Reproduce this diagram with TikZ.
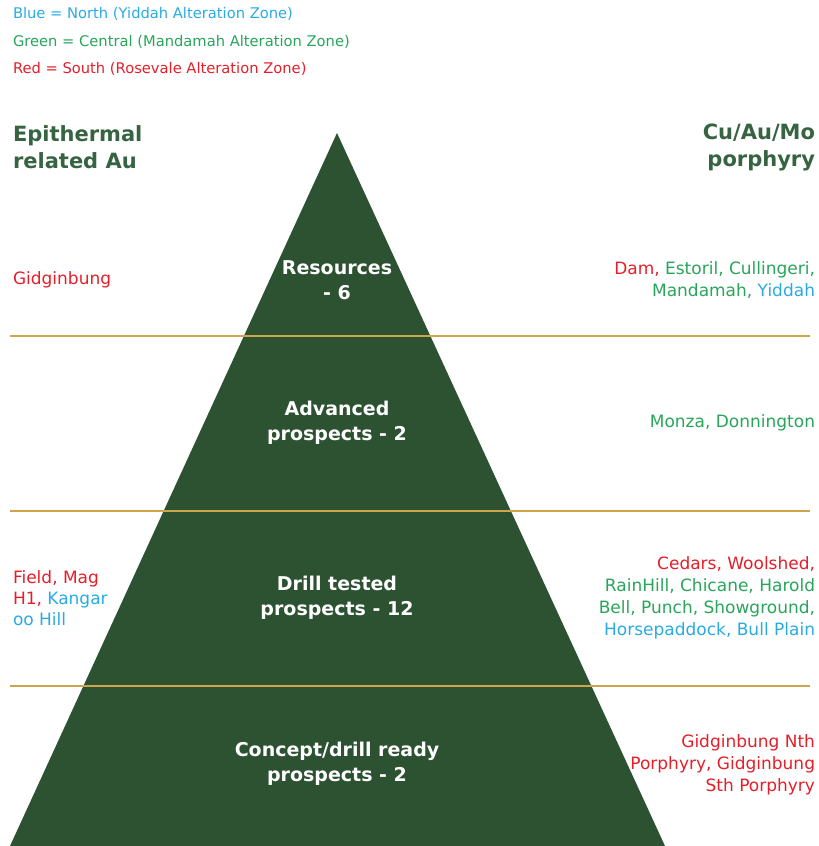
\documentclass[tikz,border=0pt]{standalone}
\usepackage{fontspec}
\setmainfont{DejaVu Sans}
\usetikzlibrary{positioning}
\definecolor{pyrgreen}{RGB}{45,82,50}
\definecolor{headgreen}{RGB}{54,100,66}
\definecolor{zblue}{RGB}{41,171,226}
\definecolor{zgreen}{RGB}{40,165,90}
\definecolor{zred}{RGB}{230,30,40}
\definecolor{rulegold}{RGB}{205,165,75}

\begin{document}
\begin{tikzpicture}[x=1pt,y=-1pt,every node/.style={inner sep=0pt,outer sep=0pt},
legend/.style={anchor=west,font=\fontsize{14.7}{16}\selectfont},
head/.style={font=\bfseries\fontsize{21}{27}\selectfont,text=headgreen},
level/.style={align=center,text=white,font=\bfseries\fontsize{19}{25}\selectfont},
names/.style={font=\fontsize{17}{22}\selectfont}
]
\useasboundingbox (0,0) rectangle (819,846);

% legend
\node[legend,text=zblue] (blue) at (13,14) {Blue = North (Yiddah Alteration Zone)};
\node[legend,text=zgreen] (green) at (13,42) {Green = Central (Mandamah Alteration Zone)};
\node[legend,text=zred] (red) at (13,69) {Red = South (Rosevale Alteration Zone)};

% pyramid
\fill[pyrgreen] (337,133) -- (665,846) -- (10,846) -- cycle;
\foreach \y in {336,511,686}
  \draw[rulegold,line width=1.2pt] (10,\y) -- (810,\y);

% headings
\node[head,anchor=west,align=left] (epi) at (13,147) {Epithermal\\related Au};
\node[head,anchor=east,align=right] (porph) at (815,147) {Cu/Au/Mo\\porphyry};

% levels
\node[level] (res) at (337,280) {Resources\\- 6};
\node[level] (adv) at (337,423) {Advanced\\prospects - 2};
\node[level] (drill) at (337,598) {Drill tested\\prospects - 12};
\node[level] (concept) at (337,764) {Concept/drill ready\\prospects - 2};

% prospects
\node[names,anchor=west,text=zred] (gid) at (13,280) {Gidginbung};
\node[names,anchor=east,align=right] (resR) at (815,280)
  {\textcolor{zred}{Dam,} \textcolor{zgreen}{Estoril, Cullingeri,}\\
   \textcolor{zgreen}{Mandamah,} \textcolor{zblue}{Yiddah}};
\node[names,anchor=east,text=zgreen] (advR) at (815,423) {Monza, Donnington};
\node[names,anchor=west,align=left,font=\fontsize{17}{21}\selectfont] (drillL) at (13,598)
  {\textcolor{zred}{Field, Mag}\\
   \textcolor{zred}{H1,} \textcolor{zblue}{Kangar}\\
   \textcolor{zblue}{oo Hill}};
\node[names,anchor=east,align=right] (drillR) at (815,598)
  {\textcolor{zred}{Cedars, Woolshed,}\\
   \textcolor{zgreen}{RainHill, Chicane, Harold}\\
   \textcolor{zgreen}{Bell, Punch, Showground,}\\
   \textcolor{zblue}{Horsepaddock, Bull Plain}};
\node[names,anchor=east,align=right,text=zred] (conceptR) at (815,765)
  {Gidginbung Nth\\Porphyry, Gidginbung\\Sth Porphyry};
\end{tikzpicture}
\end{document}
